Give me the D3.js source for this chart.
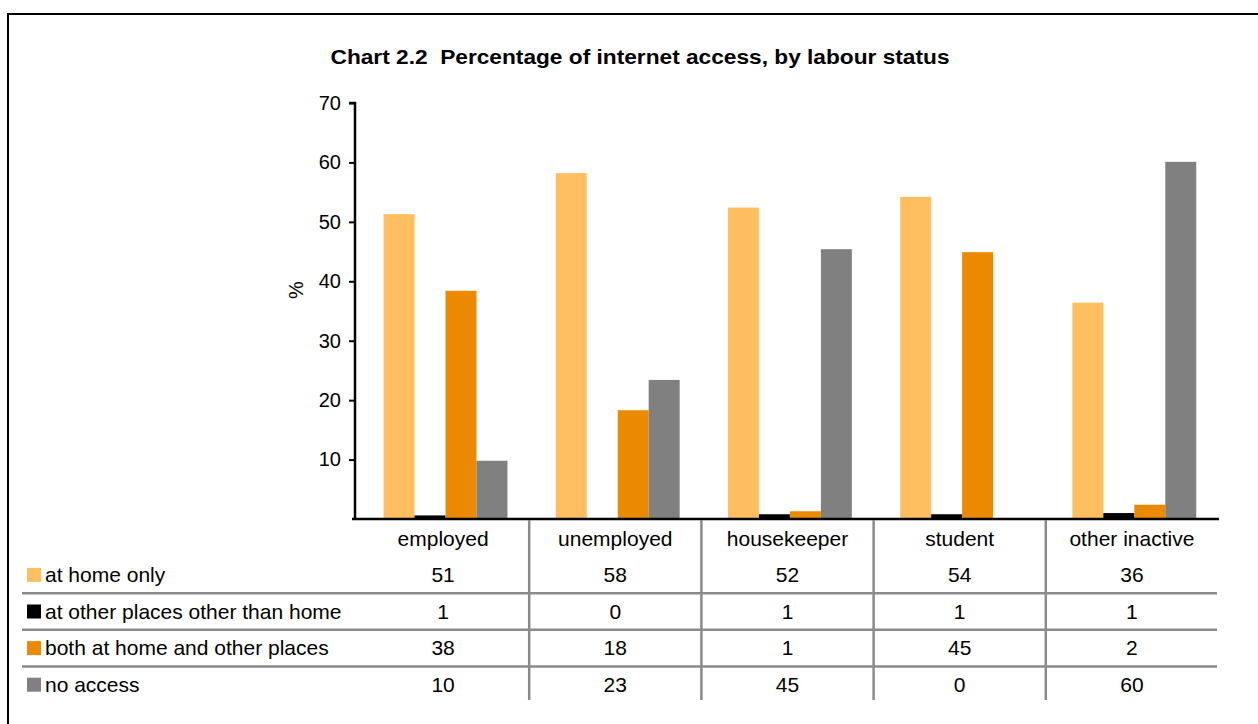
<!DOCTYPE html>
<html>
<head>
<meta charset="utf-8">
<script src="https://cdn.jsdelivr.net/npm/d3@7"></script>
<style>
  body { margin: 0; background: #fff; }
  svg { display: block; font-family: "Liberation Sans", Arial, sans-serif; }
  text { white-space: pre; }
</style>
</head>
<body>
<svg id="chart" width="1258" height="724"></svg>
<script>
// Data
const categories = ["employed", "unemployed", "housekeeper", "student", "other inactive"];
const seriesNames = ["at home only", "at other places other than home", "both at home and other places", "no access"];
const seriesColors = ["#FFBF60", "#000000", "#EB8A00", "#808080"];
const atHomeOnly = [51.3, 58.2, 52.4, 54.2, 36.4];
const otherPlaces = [0.6, 0, 0.8, 0.8, 1.0];
const bothPlaces = [38.4, 18.3, 1.3, 44.9, 2.4];
const noAccess = [9.8, 23.4, 45.4, 0, 60.1];
const seriesValues = [atHomeOnly, otherPlaces, bothPlaces, noAccess];
const yTicks = [10, 20, 30, 40, 50, 60, 70];

const svg = d3.select("#chart");
const textSize = "21px";

// outer frame (left and top edges only are visible)
svg.append("path")
    .attr("d", "M8,724V14H1258")
    .attr("fill", "none")
    .attr("stroke", "#000")
    .attr("stroke-width", 2);

// title
svg.append("text")
    .attr("x", 640)
    .attr("y", 64)
    .attr("text-anchor", "middle")
    .attr("font-size", "21px")
    .attr("font-weight", "bold")
    .attr("textLength", 619)
    .attr("lengthAdjust", "spacingAndGlyphs")
    .text("Chart 2.2  Percentage of internet access, by labour status");

// scales
const x = d3.scaleBand().domain(categories).range([357, 1218]).paddingInner(0).paddingOuter(0);
const xs = d3.scaleBand().domain(d3.range(4)).range([0, x.bandwidth()])
    .paddingInner(0).paddingOuter(0.78).align(0.55);
const y = d3.scaleLinear().domain([0, 70]).range([519, 103]);

// bars
const groups = svg.append("g")
    .selectAll("g")
    .data(categories)
    .join("g")
    .attr("transform", d => `translate(${x(d)},0)`);

groups.selectAll("rect")
    .data((d, i) => seriesValues.map((vals, s) => ({ s, v: vals[i] })))
    .join("rect")
    .attr("x", d => xs(d.s))
    .attr("width", xs.bandwidth())
    .attr("y", d => y(d.v))
    .attr("height", d => y(0) - y(d.v))
    .attr("fill", d => seriesColors[d.s]);

// y axis
const yAxis = svg.append("g")
    .attr("transform", "translate(355,0)")
    .call(d3.axisLeft(y).tickValues(yTicks).tickSize(6).tickPadding(8).tickFormat(d3.format("d")));
yAxis.select(".domain").attr("d", `M-6,${y(70)}H0V${y(0)}`).attr("stroke-width", 2.5);
yAxis.selectAll(".tick line").attr("stroke-width", 2);
yAxis.selectAll(".tick text").attr("font-size", "20px").attr("fill", "#000").attr("font-family", "Liberation Sans, Arial, sans-serif");

// baseline
svg.append("line")
    .attr("x1", 352).attr("x2", 1219)
    .attr("y1", y(0)).attr("y2", y(0))
    .attr("stroke", "#000").attr("stroke-width", 2.5);

// y axis title
svg.append("text")
    .attr("transform", "translate(303,290) rotate(-90)")
    .attr("text-anchor", "middle")
    .attr("font-size", "20px")
    .text("%");

// data table
const rowY = d3.scaleBand().domain(d3.range(5)).range([520, 703]);
const gridColor = "#8a8a8a";

// vertical separators between categories
svg.append("g")
    .selectAll("line")
    .data(categories.slice(1))
    .join("line")
    .attr("x1", d => x(d)).attr("x2", d => x(d))
    .attr("y1", y(0) + 1).attr("y2", 700)
    .attr("stroke", gridColor).attr("stroke-width", 2.5);

// horizontal separators between series rows
svg.append("g")
    .selectAll("line")
    .data([1, 2, 3])
    .join("line")
    .attr("x1", 22).attr("x2", 1217)
    .attr("y1", d => rowY(d + 1)).attr("y2", d => rowY(d + 1))
    .attr("stroke", gridColor).attr("stroke-width", 2.5);

// header: category names
svg.append("g")
    .selectAll("text")
    .data(categories)
    .join("text")
    .attr("x", d => x(d) + x.bandwidth() / 2)
    .attr("y", rowY(0) + rowY.bandwidth() / 2)
    .attr("dy", "0.35em")
    .attr("text-anchor", "middle")
    .attr("font-size", textSize)
    .text(d => d);

// legend keys and series labels
const rows = svg.append("g")
    .selectAll("g")
    .data(seriesNames)
    .join("g")
    .attr("transform", (d, i) => `translate(0,${rowY(i + 1) + rowY.bandwidth() / 2})`);

rows.append("rect")
    .attr("x", 27).attr("y", -7)
    .attr("width", 14).attr("height", 14)
    .attr("fill", (d, i) => seriesColors[i]);

rows.append("text")
    .attr("x", 45)
    .attr("dy", "0.35em")
    .attr("font-size", textSize)
    .text(d => d);

rows.each(function (d, i) {
    d3.select(this).selectAll("text.val")
        .data(seriesValues[i])
        .join("text")
        .attr("class", "val")
        .attr("x", (v, j) => x(categories[j]) + x.bandwidth() / 2)
        .attr("dy", "0.35em")
        .attr("text-anchor", "middle")
        .attr("font-size", textSize)
        .text(v => Math.round(v));
});
</script>
</body>
</html>
